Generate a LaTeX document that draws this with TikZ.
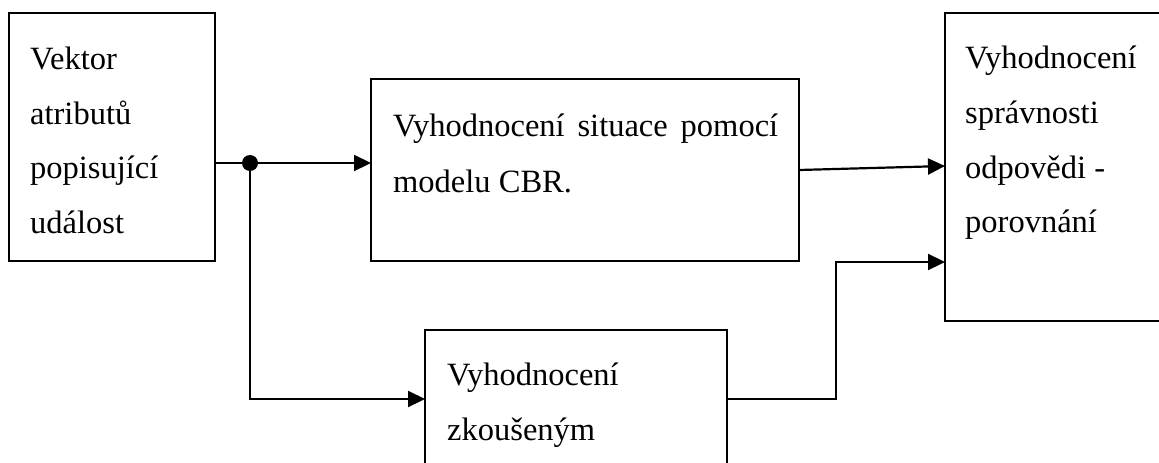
\documentclass[tikz,border=0pt]{standalone}
\usepackage{fontspec}
\setmainfont{Liberation Serif}
\usetikzlibrary{arrows.meta}
\begin{document}
\begin{tikzpicture}[x=1pt,y=-1pt,
  box/.style={draw=black,line width=2.2pt,rectangle,inner sep=0pt,outer sep=0pt,anchor=north west},
  lbl/.style={inner sep=0pt,anchor=base west,font=\fontsize{32.5}{39}\selectfont},
  wire/.style={draw=black,line width=2.2pt},
  arr/.style={wire,-{Triangle[length=17pt,width=16pt]}}]
\path[use as bounding box,clip] (0,0) rectangle (1159,463);
\fill[white] (0,0) rectangle (1159,463);

% blocks
\node[box,minimum width=206pt,minimum height=248pt] (vec) at (9,13) {};
\node[box,minimum width=428pt,minimum height=182pt] (cbr) at (371,79) {};
\node[box,minimum width=302pt,minimum height=138pt] (exp) at (425,330) {};
\node[box,minimum width=260pt,minimum height=308pt] (eval) at (945,13) {};

% block texts
\node[lbl] (v1) at (30,69) {Vektor};
\node[lbl] (v2) at (30,124) {atributů};
\node[lbl] (v3) at (30,178) {popisující};
\node[lbl] (v4) at (30,233) {událost};

\node[lbl] (c1) at (393,136) {\makebox[385pt][s]{Vyhodnocení situace pomocí}};
\node[lbl] (c2) at (393,192) {modelu CBR.};

\node[lbl] (e1) at (447,385) {Vyhodnocení};
\node[lbl] (e2) at (447,440) {zkoušeným};

\node[lbl] (r1) at (965,68) {Vyhodnocení};
\node[lbl] (r2) at (965,123) {správnosti};
\node[lbl] (r3) at (965,178) {odpovědi -};
\node[lbl] (r4) at (965,232) {porovnání};

% connectors
\coordinate (split) at (250,163);
\coordinate (inA) at (945,166);
\coordinate (inB) at (945,262);
\coordinate (bend) at (836,399);

\draw[wire] (vec.east |- split) -- (split);
\draw[arr] (split) -- (split -| cbr.west);
\draw[arr] (split) |- (exp.west);
\draw[arr] (cbr.east) -- (inA);
\draw[arr] (exp.east) -- (bend) |- (inB);
\fill (split) circle (8pt);
\end{tikzpicture}
\end{document}
